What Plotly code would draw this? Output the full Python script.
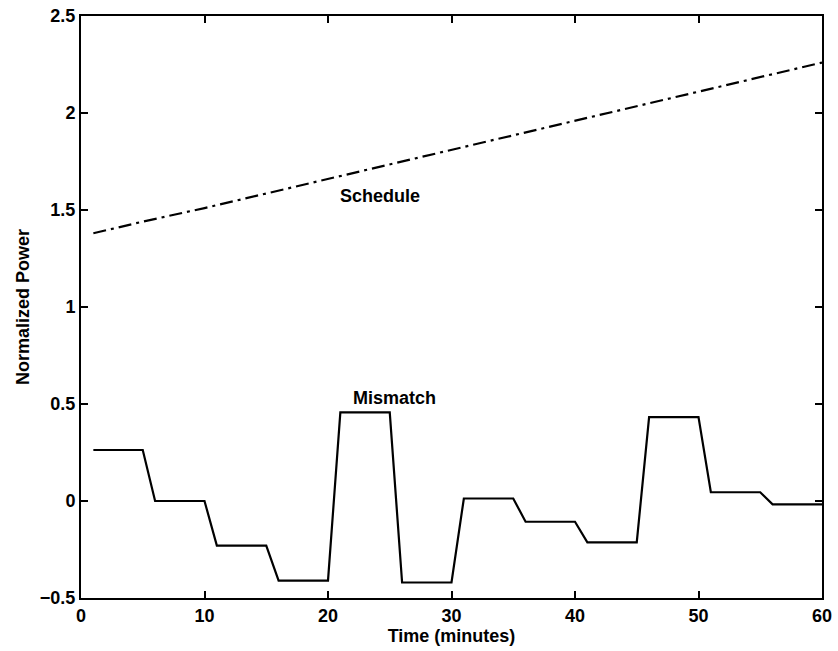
import plotly.graph_objects as go

# Mismatch: breakpoints (minutes) and values (normalized power)
mismatch_time = [1, 5, 6, 10, 11, 15, 16, 20, 21, 25, 26, 30, 31, 35, 36, 40,
                 41, 45, 46, 50, 51, 55, 56, 60]
mismatch_vals = [0.263, 0.263, 0.0, 0.0, -0.23, -0.23, -0.41, -0.41, 0.457, 0.457,
                 -0.42, -0.42, 0.013, 0.013, -0.107, -0.107, -0.213, -0.213,
                 0.432, 0.432, 0.045, 0.045, -0.017, -0.017]

# Schedule
schedule_time = [1, 5, 10, 15, 20, 25, 30, 35, 40, 45, 50, 55, 60]
schedule_vals = [1.38, 1.44, 1.51, 1.585, 1.66, 1.735, 1.81, 1.885, 1.96, 2.035, 2.11, 2.185, 2.26]

x_ticks = [0, 10, 20, 30, 40, 50, 60]
y_ticks = [-0.5, 0, 0.5, 1, 1.5, 2, 2.5]

FONT = "Liberation Sans, Arial, sans-serif"
FS = 18

fig = go.Figure()
fig.add_trace(go.Scatter(x=schedule_time, y=schedule_vals, mode="lines",
                         line=dict(color="black", width=2.2, dash="13px,5px,3px,5px"),
                         showlegend=False, hoverinfo="skip"))
fig.add_trace(go.Scatter(x=mismatch_time, y=mismatch_vals, mode="lines",
                         line=dict(color="black", width=2.2),
                         showlegend=False, hoverinfo="skip"))

fig.add_annotation(x=24.2, y=1.57, text="<b>Schedule</b>", showarrow=False,
                   font=dict(family=FONT, size=FS, color="black"))
fig.add_annotation(x=25.4, y=0.53, text="<b>Mismatch</b>", showarrow=False,
                   font=dict(family=FONT, size=FS, color="black"))

axis_common = dict(showgrid=False, zeroline=False, showline=True, linecolor="black",
                   linewidth=2, mirror="ticks", ticks="inside", ticklen=7,
                   tickwidth=2, tickcolor="black", automargin=False,
                   tickfont=dict(family=FONT, size=FS, color="black"))

fig.update_xaxes(range=[0, 60], tickvals=x_ticks,
                 ticktext=[f"<b>{v}</b>" for v in x_ticks],
                 title=dict(text="<b>Time (minutes)</b>", standoff=0,
                            font=dict(family=FONT, size=FS, color="black")),
                 **axis_common)
fig.update_yaxes(range=[-0.5, 2.5], tickvals=y_ticks,
                 ticktext=[f"<b>{'−0.5' if v == -0.5 else ('%g' % v)}</b>" for v in y_ticks],
                 title=dict(text="<b>Normalized Power</b>", standoff=6,
                            font=dict(family=FONT, size=FS, color="black")),
                 **axis_common)

fig.update_layout(width=838, height=651, margin=dict(l=81, r=16, t=16, b=53),
                  plot_bgcolor="white", paper_bgcolor="white")

fig.write_html("out.html")
